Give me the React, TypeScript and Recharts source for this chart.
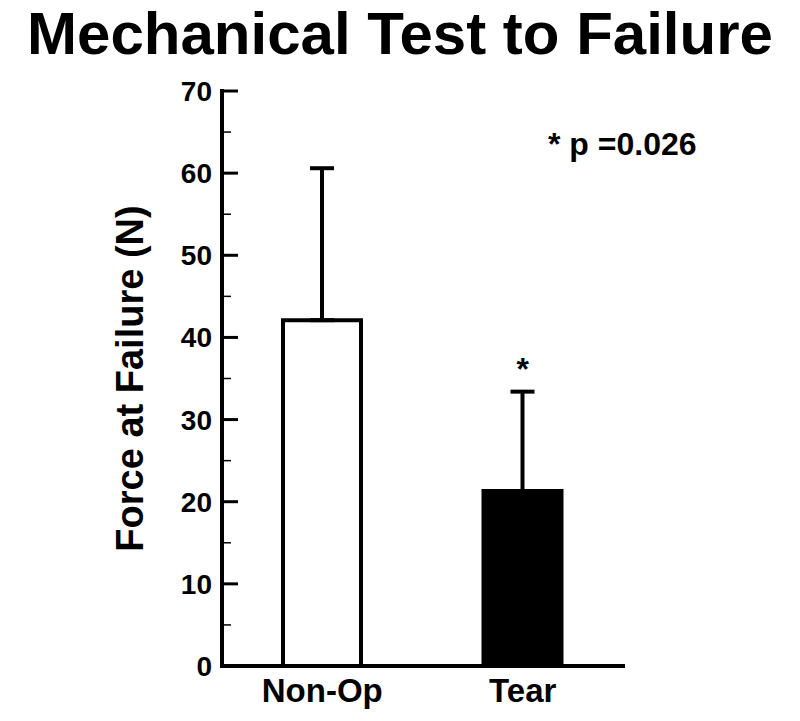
import { BarChart, Bar, XAxis, YAxis, ErrorBar, Cell, ReferenceDot, Label } from 'recharts';

const groups = ['Non-Op', 'Tear'];
const meanForce = [42.1, 21.3];
const sdForce = [18.5, 12.1];
const significance = ['', '*'];
const barFills = ['#ffffff', '#000000'];
const yTicks = [0, 5, 10, 15, 20, 25, 30, 35, 40, 45, 50, 55, 60, 65, 70];

const data = groups.map((name, i) => ({
    name,
    force: meanForce[i],
    err: [0, sdForce[i]],
}));

const FONT = '"Liberation Sans", Arial, Helvetica, sans-serif';

// major ticks every 10 with labels, minor ticks in between, all pointing inward
const YTick = (props: any) => {
    const { x, y, payload } = props;
    const major = payload.value % 10 === 0;
    const axisX = x + 10;
    return (
        <g>
            <line x1={axisX} y1={y} x2={axisX + (major ? 16 : 9)} y2={y} stroke='#000' strokeWidth={major ? 3 : 1.5} />
            {major && (
                <text x={x} y={y} dy={10} textAnchor='end' fontSize={28} fontWeight='bold' fontFamily={FONT} fill='#000'>
                    {payload.value}
                </text>
            )}
        </g>
    );
};

const App = () => {
    const sigIndex = significance.findIndex((s) => s !== '');
    return (
        <div style={{ position: 'absolute', left: 0, top: 0, width: 800, height: 721, background: '#fff', fontFamily: FONT }}>
            <div style={{ position: 'absolute', left: 0, top: 4, width: 800, textAlign: 'center', fontSize: 60, lineHeight: '60px', fontWeight: 'bold', color: '#000', whiteSpace: 'nowrap' }}>
                Mechanical Test to Failure
            </div>
            <div style={{ position: 'absolute', left: 548, top: 128, fontSize: 32, lineHeight: '32px', fontWeight: 'bold', color: '#000', whiteSpace: 'pre' }}>
                * p =0.026
            </div>
            <BarChart width={800} height={721} data={data} margin={{ top: 91, right: 177, left: 0, bottom: 0 }}>
                <XAxis
                    dataKey='name'
                    height={55}
                    tickLine={false}
                    tickSize={6}
                    tickMargin={7}
                    axisLine={{ stroke: '#000', strokeWidth: 4, strokeLinecap: 'square' }}
                    tick={{ fill: '#000', fontSize: 33, fontWeight: 'bold', fontFamily: FONT }}
                />
                <YAxis
                    width={222}
                    domain={[0, 70]}
                    ticks={yTicks}
                    interval={0}
                    tickLine={false}
                    tickSize={0}
                    tickMargin={10}
                    tick={<YTick />}
                    axisLine={{ stroke: '#000', strokeWidth: 4, strokeLinecap: 'square' }}
                >
                    <Label
                        value='Force at Failure (N)'
                        angle={-90}
                        position='insideLeft'
                        offset={130}
                        style={{ textAnchor: 'middle', fontSize: 38, fontWeight: 'bold', fontFamily: FONT, fill: '#000' }}
                    />
                </YAxis>
                <Bar dataKey='force' barSize={78} isAnimationActive={false}>
                    {data.map((d, i) => (
                        <Cell key={d.name} fill={barFills[i]} stroke='#000' strokeWidth={4} />
                    ))}
                    <ErrorBar dataKey='err' direction='y' width={12} stroke='#000' strokeWidth={4} isAnimationActive={false} />
                </Bar>
                {sigIndex >= 0 && (
                    <ReferenceDot
                        x={groups[sigIndex]}
                        y={meanForce[sigIndex] + sdForce[sigIndex]}
                        r={0}
                        fill='none'
                        stroke='none'
                    >
                        <Label value={significance[sigIndex]} position='top' offset={12} style={{ fontSize: 32, fontWeight: 'bold', fontFamily: FONT, fill: '#000' }} />
                    </ReferenceDot>
                )}
            </BarChart>
        </div>
    );
};

export default App;
